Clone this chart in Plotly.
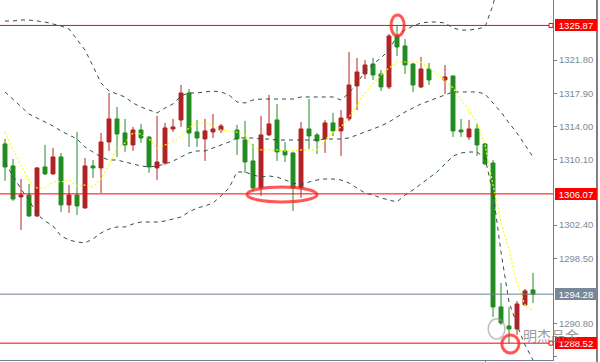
import plotly.graph_objects as go

# ---------------- data (price units) ----------------
candle_idx = [0, 1, 2, 3, 4, 5, 6, 7, 8, 9, 10, 11, 12, 13, 14, 15, 16, 17, 18, 19,
              20, 21, 22, 23, 24, 25, 26, 27, 29, 30, 31, 32, 33, 34, 35, 36, 37, 38, 39,
              40, 41, 42, 43, 44, 45, 46, 47, 48, 49, 50, 51, 52, 53, 55, 56, 57, 58, 59,
              60, 61, 62, 63, 64, 65, 66]
opens = [1311.94, 1309.35, 1305.71, 1305.94, 1303.47, 1309.23, 1308.41, 1310.41, 1304.77, 1305.94,
         1304.41, 1309.35, 1309.12, 1312.17, 1314.88, 1313.23, 1311.82, 1313.58, 1312.76, 1309.12,
         1309.70, 1313.70, 1314.76, 1317.93, 1313.35, 1312.53, 1313.35, 1313.58,
         1313.58, 1312.41, 1309.94, 1306.77, 1313.00, 1314.76, 1311.12, 1310.88, 1306.77, 1313.70, 1313.00,
         1312.53, 1314.41, 1313.47, 1314.88, 1318.76, 1320.17, 1321.34, 1320.17, 1318.64, 1324.63,
         1323.46, 1321.34, 1318.64, 1320.75,
         1319.46, 1319.93, 1313.58, 1312.76, 1313.70, 1311.94, 1309.70, 1292.78, 1290.54, 1290.19,
         1293.01, 1294.78]
highs = [1312.53, 1310.17, 1307.82, 1307.24, 1309.20, 1311.82, 1311.47, 1310.88, 1307.12, 1313.35,
         1310.29, 1310.06, 1313.23, 1317.93, 1316.29, 1314.88, 1313.94, 1314.29, 1312.80, 1315.23,
         1314.41, 1314.88, 1318.87, 1318.40, 1314.76, 1314.88, 1315.47, 1314.29,
         1314.17, 1314.64, 1311.94, 1315.23, 1317.70, 1316.64, 1312.17, 1310.95, 1314.52, 1317.23, 1313.23,
         1314.76, 1315.58, 1315.93, 1322.75, 1322.05, 1321.81, 1322.05, 1320.64, 1324.87, 1325.87,
         1324.28, 1321.40, 1322.17, 1321.46,
         1321.22, 1319.98, 1314.88, 1314.76, 1314.29, 1312.00, 1310.06, 1295.60, 1292.78, 1293.48,
         1294.89, 1296.77]
lows = [1307.59, 1305.24, 1301.83, 1303.36, 1303.36, 1308.29, 1308.35, 1303.94, 1303.83, 1303.59,
        1304.35, 1307.94, 1306.18, 1311.12, 1310.41, 1311.00, 1311.12, 1312.06, 1308.53, 1307.71,
        1309.47, 1313.35, 1313.94, 1311.59, 1311.59, 1309.94, 1312.64, 1313.23,
        1310.65, 1308.53, 1306.41, 1305.83, 1312.88, 1309.94, 1309.82, 1304.06, 1305.59, 1311.35, 1310.76,
        1310.88, 1312.88, 1310.53, 1314.64, 1315.93, 1319.58, 1319.46, 1318.17, 1318.40, 1322.28,
        1320.17, 1318.05, 1318.52, 1318.87,
        1317.82, 1312.76, 1312.76, 1312.41, 1310.53, 1309.47, 1291.60, 1290.66, 1288.52, 1289.49,
        1293.01, 1293.25]
closes = [1309.23, 1305.47, 1305.94, 1303.47, 1309.12, 1308.41, 1310.41, 1304.77, 1305.94, 1304.65,
          1309.35, 1309.12, 1312.17, 1314.88, 1313.11, 1311.82, 1313.58, 1312.64, 1309.23, 1309.82,
          1313.82, 1313.94, 1317.93, 1313.23, 1312.64, 1313.47, 1313.70, 1314.05,
          1312.53, 1309.82, 1306.77, 1313.00, 1314.29, 1311.00, 1310.65, 1306.77, 1313.70, 1312.88, 1312.29,
          1314.41, 1313.47, 1314.99, 1318.87, 1320.40, 1321.22, 1320.05, 1318.64, 1324.63, 1323.34,
          1321.22, 1318.87, 1320.75, 1319.46,
          1319.81, 1313.47, 1313.35, 1313.70, 1311.82, 1309.59, 1292.78, 1290.90, 1290.19, 1293.13,
          1294.66, 1294.28]

upper_band = [1326.39, 1326.39, 1326.51, 1326.51, 1326.39, 1326.27, 1326.04, 1325.80, 1325.45, 1324.16,
              1322.98, 1321.10, 1319.10, 1318.16, 1317.81, 1317.46, 1316.75, 1316.28, 1315.93, 1315.58,
              1316.16, 1316.64, 1317.58, 1317.93, 1317.93, 1318.05, 1318.16, 1318.05, 1317.69, 1316.87,
              1316.75, 1317.11, 1317.22, 1317.22, 1317.22, 1317.22, 1317.22, 1317.46, 1317.46, 1317.46,
              1317.46, 1317.46, 1317.11, 1317.93, 1319.10, 1320.40, 1321.34, 1322.04, 1322.98, 1324.63,
              1325.33, 1325.80, 1326.16, 1326.27, 1326.27, 1326.16, 1325.57, 1325.33, 1325.33, 1325.45,
              1325.69, 1328.27, 1332.15, 1335.44]
middle_band = [1318.05, 1317.22, 1316.28, 1315.46, 1314.99, 1314.52, 1314.05, 1313.46, 1312.99, 1312.52,
               1311.58, 1310.99, 1310.40, 1310.05, 1310.05, 1309.82, 1309.58, 1309.35, 1309.23, 1309.35,
               1309.58, 1309.93, 1310.40, 1310.88, 1311.11, 1311.11, 1311.46, 1311.82, 1312.17, 1312.64,
               1312.64, 1312.64, 1312.52, 1312.52, 1312.40, 1312.40, 1312.40, 1312.40, 1312.40, 1312.40,
               1312.52, 1312.52, 1312.52, 1312.64, 1312.99, 1313.34, 1313.70, 1314.05, 1314.52, 1315.11,
               1315.69, 1316.16, 1316.64, 1316.99, 1317.34, 1317.69, 1318.05, 1318.05, 1318.05, 1318.05,
               1317.81, 1316.75, 1315.69, 1314.40, 1313.23, 1311.82, 1310.40]
lower_band = [1309.70, 1308.17, 1306.64, 1305.35, 1303.70, 1302.88, 1302.29, 1301.12, 1300.65, 1300.41,
              1300.30, 1300.77, 1301.47, 1301.94, 1302.18, 1302.18, 1302.53, 1302.76, 1302.76, 1302.76,
              1302.88, 1303.12, 1303.35, 1303.94, 1304.41, 1304.65, 1305.00, 1305.82, 1306.76, 1308.64,
              1308.64, 1308.29, 1308.05, 1308.17, 1308.05, 1307.70, 1307.35, 1307.11, 1307.47, 1307.70,
              1307.82, 1307.82, 1307.70, 1307.35, 1306.76, 1306.17, 1305.94, 1305.59, 1305.35, 1305.12,
              1305.94, 1306.53, 1307.23, 1307.94, 1308.64, 1309.58, 1310.52, 1310.88, 1310.99, 1310.99,
              1310.29, 1306.17, 1299.24, 1293.36, 1290.66, 1288.31, 1286.54]
fast_ma = [1313.34, 1311.23, 1309.46, 1307.58, 1306.76, 1306.76, 1307.47, 1307.47, 1307.70, 1307.00,
           1307.11, 1306.88, 1307.82, 1309.46, 1311.46, 1312.05, 1313.23, 1313.11, 1312.52, 1311.46,
           1311.82, 1312.17, 1312.87, 1313.81, 1314.40, 1314.40, 1314.17, 1313.58, 1313.46, 1313.34,
           1312.99, 1311.58, 1311.23, 1311.23, 1311.23, 1311.11, 1311.11, 1311.23, 1311.23, 1311.23,
           1312.40, 1313.34, 1313.93, 1315.11, 1316.52, 1317.93, 1318.99, 1320.04, 1320.87, 1321.57,
           1321.57, 1321.57, 1321.57, 1320.87, 1320.16, 1319.46, 1318.52, 1317.11, 1315.81, 1314.52,
           1311.82, 1307.11, 1302.76, 1299.47, 1295.59, 1293.01, 1292.30]

tick_vals = [1286.90, 1290.80, 1298.50, 1302.40, 1310.10, 1314.00, 1317.90, 1321.80]
tick_text = ["1286.90", "1290.80", "1298.50", "1302.40", "1310.10", "1314.00", "1317.90", "1321.80"]

level_high = 1325.87
level_mid = 1306.07
level_last = 1294.28
level_low = 1288.52

RED_C = "#B22222"
GREEN_C = "#228B22"
BAND_C = "#2F4F4F"
AXIS_C = "#708090"

fig = go.Figure()

fig.add_trace(go.Candlestick(
    x=candle_idx, open=opens, high=highs, low=lows, close=closes,
    increasing=dict(line=dict(color=RED_C, width=1), fillcolor=RED_C),
    decreasing=dict(line=dict(color=GREEN_C, width=1), fillcolor=GREEN_C),
    whiskerwidth=0, hoverinfo="skip", showlegend=False))

for vals in (upper_band, middle_band, lower_band):
    fig.add_trace(go.Scatter(x=list(range(len(vals))), y=vals, mode="lines",
                             line=dict(color=BAND_C, width=1, dash="4px,4px"),
                             hoverinfo="skip", showlegend=False))
fig.add_trace(go.Scatter(x=list(range(len(fast_ma))), y=fast_ma, mode="lines",
                         line=dict(color="#FFFF00", width=1.2, dash="2px,2px"),
                         hoverinfo="skip", showlegend=False))

shapes = []
# horizontal levels
shapes.append(dict(type="line", xref="x domain", yref="y", x0=0, x1=0.9928, y0=level_high, y1=level_high,
                   line=dict(color="#FF0000", width=1)))
shapes.append(dict(type="line", xref="x domain", yref="y", x0=0, x1=1, y0=level_mid, y1=level_mid,
                   line=dict(color="#FF0000", width=1)))
shapes.append(dict(type="line", xref="x domain", yref="y", x0=0, x1=1, y0=level_last, y1=level_last,
                   line=dict(color=AXIS_C, width=1)))
shapes.append(dict(type="line", xref="x domain", yref="y", x0=0, x1=0.9928, y0=level_low, y1=level_low,
                   line=dict(color="#FF0000", width=1)))
for lv in (level_high, level_low):
    shapes.append(dict(type="rect", xref="x domain", yref="y", xsizemode="pixel", ysizemode="pixel",
                       xanchor=1, yanchor=lv, x0=-4, x1=0, y0=-2, y1=2,
                       line=dict(color="#FF0000", width=1), fillcolor="white"))
# red ellipses
ell = dict(type="circle", xref="x", yref="y", line=dict(color="rgba(255,30,30,0.75)", width=3))
shapes.append(dict(ell, x0=48.25, x1=49.9, y0=1324.63, y1=1327.10))
shapes.append(dict(ell, x0=30.25, x1=39.0, y0=1305.12, y1=1306.88))
shapes.append(dict(ell, x0=62.1, x1=64.25, y0=1287.36, y1=1289.48))
# watermark icon
shapes.append(dict(type="circle", xref="x", yref="y", x0=60.4, x1=62.5, y0=1289.0, y1=1291.4,
                   line=dict(color="rgba(150,150,150,0.6)", width=1.5)))
# right window border
shapes.append(dict(type="line", xref="paper", yref="paper", x0=597 / 553, x1=597 / 553, y0=-0.01, y1=1.01,
                   line=dict(color="#000000", width=1)))

annotations = []
for lv, bg in ((level_high, "#FF0000"), (level_mid, "#FF0000"), (level_low, "#FF0000"), (level_last, "#778899")):
    annotations.append(dict(xref="paper", yref="y", x=1, y=lv, xanchor="left", yanchor="middle",
                            xshift=2, text=f"{lv:.2f}", showarrow=False, bgcolor=bg,
                            font=dict(family="Liberation Sans", size=9.5, color="#FFFFFF"),
                            width=40, height=10, borderpad=0, borderwidth=1, bordercolor=bg,
                            align="center", valign="middle"))
annotations.append(dict(xref="x", yref="y", x=68.3, y=1289.5, text="明杰品金", showarrow=False,
                        font=dict(family="Noto Sans CJK SC", size=14, color="rgba(120,120,120,0.75)")))

fig.update_layout(
    width=600, height=362,
    margin=dict(l=0, r=47, t=0, b=2, autoexpand=False),
    paper_bgcolor="white", plot_bgcolor="white",
    showlegend=False,
    shapes=shapes, annotations=annotations,
    xaxis=dict(range=[-0.625, 68.5], showgrid=False, zeroline=False, showline=True,
               linecolor=AXIS_C, linewidth=1, ticks="outside", tickvals=[60], ticklen=3,
               tickcolor=AXIS_C, showticklabels=False, rangeslider=dict(visible=False),
               fixedrange=True),
    yaxis=dict(range=[1286.54, 1328.86], side="right", showgrid=False, zeroline=False,
               showline=True, linecolor=AXIS_C, linewidth=1, ticks="outside", ticklen=3,
               tickcolor=AXIS_C, tickvals=tick_vals, ticktext=tick_text,
               tickfont=dict(family="Liberation Sans", size=9.5, color="#7a8a9a"),
               fixedrange=True),
)

fig.write_html("out.html", config={"displayModeBar": False},
               post_script="document.body.style.margin='0px';document.body.style.overflow='hidden';")
